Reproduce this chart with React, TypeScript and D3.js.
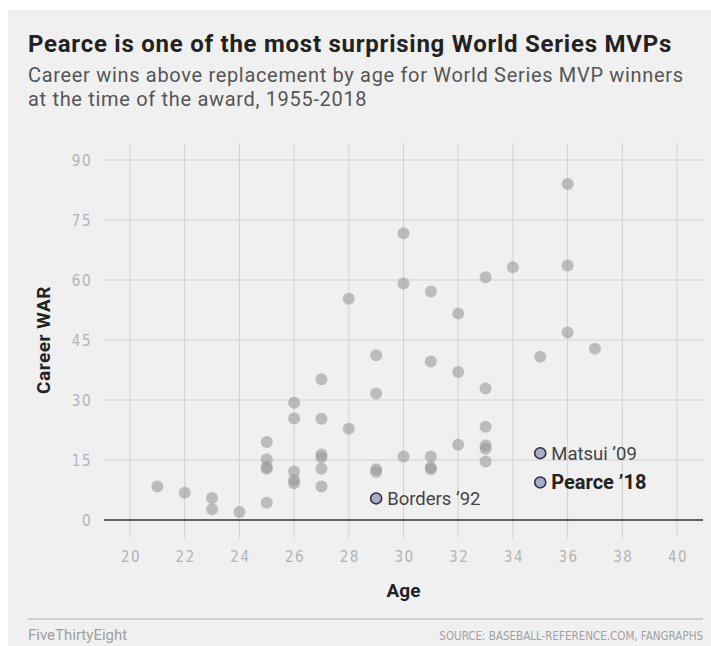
import { useRef, useEffect } from 'react';
import * as d3 from 'd3';

// gray dots: other World Series MVPs
const ages = [21, 22, 23, 23, 24, 25, 25, 25, 25, 25, 26, 26, 26, 26, 26, 27, 27, 27, 27, 27, 27, 28, 28, 29, 29, 29, 29, 30, 30, 30, 31, 31, 31, 31, 31, 32, 32, 32, 33, 33, 33, 33, 33, 33, 34, 35, 36, 36, 36, 37];
const careerWar = [8.4, 6.8, 5.5, 2.7, 2.0, 19.5, 15.2, 13.3, 12.8, 4.3, 29.3, 25.4, 12.1, 10.0, 9.2, 35.2, 25.3, 16.4, 15.6, 12.8, 8.4, 55.3, 22.8, 41.2, 31.6, 12.7, 12.0, 71.7, 59.1, 15.9, 57.1, 39.6, 15.9, 13.2, 12.7, 51.6, 37.0, 18.8, 60.7, 32.9, 23.3, 18.6, 17.8, 14.6, 63.2, 40.8, 84.0, 63.6, 46.9, 42.8];

// labelled players
const highlightNames = ["Borders \u201992", "Matsui \u201909", "Pearce \u201918"];
const highlightAges = [29, 35, 35];
const highlightWar = [5.4, 16.7, 9.4];

const xTicks = [20, 22, 24, 26, 28, 30, 32, 34, 36, 38, 40];
const yTicks = [0, 15, 30, 45, 60, 75, 90];

const W = 711;
const H = 646;

const App = () => {
    const svgRef = useRef<SVGSVGElement | null>(null);

    useEffect(() => {
        const svgElement = svgRef.current;
        if (!svgElement) return;

        const svg = d3.select(svgElement);
        svg.selectAll('*').remove();

        const x = d3.scaleLinear().domain([20, 40]).range([130, 677]);
        const y = d3.scaleLinear().domain([0, 90]).range([520, 160]);

        const condensed = '"DejaVu Sans Condensed", "DejaVu Sans", sans-serif';
        const sans = 'Roboto, "Liberation Sans", sans-serif';

        // panel
        svg.append('rect')
            .attr('x', 8).attr('y', 10)
            .attr('width', W - 8).attr('height', H - 10)
            .attr('fill', '#f0f0f0');

        // title + subtitle
        svg.append('text')
            .attr('x', 28).attr('y', 52)
            .text('Pearce is one of the most surprising World Series MVPs')
            .style('font-family', sans)
            .style('font-weight', 'bold')
            .style('font-size', '24px')
            .style('letter-spacing', '0.75px')
            .style('fill', '#222');

        const sub = svg.append('text')
            .style('font-family', sans)
            .style('font-size', '20px')
            .style('letter-spacing', '0.68px')
            .style('fill', '#555');
        sub.append('tspan').attr('x', 28).attr('y', 82)
            .text('Career wins above replacement by age for World Series MVP winners');
        sub.append('tspan').attr('x', 28).attr('y', 106)
            .text('at the time of the award, 1955-2018');

        // grid
        svg.append('g')
            .selectAll('line')
            .data(xTicks)
            .join('line')
            .attr('x1', d => x(d)).attr('x2', d => x(d))
            .attr('y1', y(94.25)).attr('y2', y(-4.5))
            .attr('stroke', '#d2d2d2')
            .attr('stroke-width', 1);

        svg.append('g')
            .selectAll('line')
            .data(yTicks.filter(d => d > 0))
            .join('line')
            .attr('x1', x(19.05)).attr('x2', x(40.95))
            .attr('y1', d => y(d)).attr('y2', d => y(d))
            .attr('stroke', '#d2d2d2')
            .attr('stroke-width', 1);

        svg.append('line')
            .attr('x1', x(19.05)).attr('x2', x(40.95))
            .attr('y1', y(0)).attr('y2', y(0))
            .attr('stroke', '#333')
            .attr('stroke-width', 1.5);

        // tick labels
        svg.append('g')
            .selectAll('text')
            .data(yTicks)
            .join('text')
            .attr('x', 92)
            .attr('y', d => y(d) + 5.5)
            .attr('text-anchor', 'end')
            .text(d => d)
            .style('font-family', condensed)
            .style('font-size', '15px')
            .style('letter-spacing', '1.5px')
            .style('fill', '#b3b3b3');

        svg.append('g')
            .selectAll('text')
            .data(xTicks)
            .join('text')
            .attr('x', d => x(d) + 1)
            .attr('y', 562)
            .attr('text-anchor', 'middle')
            .text(d => d)
            .style('font-family', condensed)
            .style('font-size', '15px')
            .style('letter-spacing', '1.5px')
            .style('fill', '#b3b3b3');

        // axis titles
        svg.append('text')
            .attr('transform', `translate(50, ${y(45)}) rotate(-90)`)
            .attr('text-anchor', 'middle')
            .text('Career WAR')
            .style('font-family', sans)
            .style('font-weight', 'bold')
            .style('font-size', '19px')
            .style('letter-spacing', '0.5px')
            .style('fill', '#222');

        svg.append('text')
            .attr('x', x(30)).attr('y', 597)
            .attr('text-anchor', 'middle')
            .text('Age')
            .style('font-family', sans)
            .style('font-weight', 'bold')
            .style('font-size', '19px')
            .style('fill', '#222');

        // gray dots
        svg.append('g')
            .selectAll('circle')
            .data(ages.map((a, i) => ({ age: a, war: careerWar[i] })))
            .join('circle')
            .attr('cx', d => x(d.age))
            .attr('cy', d => y(d.war))
            .attr('r', 6)
            .attr('fill', '#999')
            .attr('fill-opacity', 0.6);

        // highlighted players
        const hl = highlightNames.map((n, i) => ({ name: n, age: highlightAges[i], war: highlightWar[i] }));
        svg.append('g')
            .selectAll('circle')
            .data(hl)
            .join('circle')
            .attr('cx', d => x(d.age))
            .attr('cy', d => y(d.war))
            .attr('r', 5.5)
            .attr('fill', '#a9acc4')
            .attr('stroke', '#2b2b3a')
            .attr('stroke-width', 1.5);

        svg.append('g')
            .selectAll('text')
            .data(hl)
            .join('text')
            .attr('x', d => x(d.age) + 11)
            .attr('y', d => y(d.war) + 6.5)
            .text(d => d.name)
            .style('font-family', sans)
            .style('font-size', d => d.name.startsWith('Pearce') ? '20px' : '18.5px')
            .style('font-weight', d => d.name.startsWith('Pearce') ? 'bold' : 'normal')
            .style('fill', d => d.name.startsWith('Pearce') ? '#222' : '#444');

        // footer
        svg.append('line')
            .attr('x1', 28).attr('x2', 703)
            .attr('y1', 619).attr('y2', 619)
            .attr('stroke', '#c4c4c4')
            .attr('stroke-width', 1.5);

        svg.append('text')
            .attr('x', 28).attr('y', 640)
            .text('FiveThirtyEight')
            .style('font-family', sans)
            .style('font-size', '15px')
            .style('fill', '#a0a0a0');

        svg.append('text')
            .attr('x', 703).attr('y', 640)
            .attr('text-anchor', 'end')
            .text('SOURCE: BASEBALL-REFERENCE.COM, FANGRAPHS')
            .style('font-family', condensed)
            .style('font-size', '11.5px')
            .style('fill', '#a0a0a0');
    }, []);

    return (
        <div>
            <style>{`body { margin: 0; overflow: hidden; background: #fff; }`}</style>
            <svg ref={svgRef} width={W} height={H} style={{ display: 'block' }}></svg>
        </div>
    );
};

export default App;
